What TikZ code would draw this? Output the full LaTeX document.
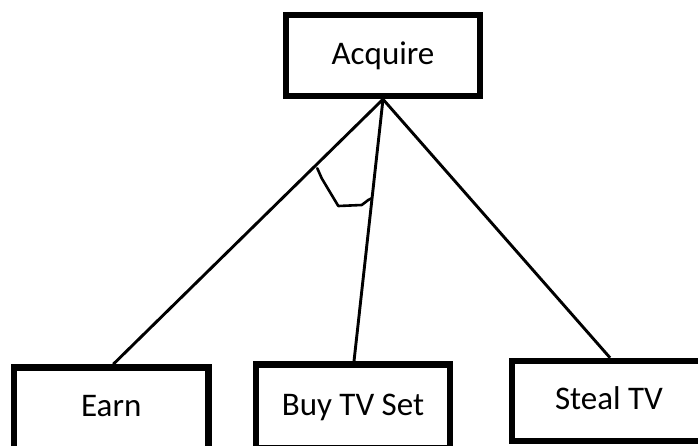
\documentclass[tikz,border=0pt]{standalone}
\usepackage{fontspec}
\setmainfont{Carlito}
\begin{document}
\begin{tikzpicture}[x=1pt,y=-1pt,
  goalbox/.style={draw=black, line width=6.5pt, rectangle, inner sep=0pt,
    text height=22pt, text depth=5pt,
    font=\fontsize{33}{40}\selectfont},
  link/.style={draw=black, line width=2.9pt},
  andarc/.style={draw=black, line width=2.6pt, line join=round, line cap=round}]
  \clip (0,0) rectangle (698,445);
  \fill[white] (0,0) rectangle (698,445);

  % goal and its three alternatives
  \node[goalbox, minimum width=194pt, minimum height=81pt] (acq) at (383,55.5) {Acquire};
  \node[goalbox, minimum width=194.5pt, minimum height=84pt, text depth=9pt] (earn) at (111.25,409.5) {Earn};
  \node[goalbox, minimum width=194pt, minimum height=84pt] (buy) at (353,406.5) {Buy TV Set};
  \node[goalbox, minimum width=194pt, minimum height=80pt] (steal) at (609,401) {Steal TV};

  % decomposition links
  \coordinate (apex) at (acq.south);
  \draw[link] (apex) -- ([xshift=2pt]earn.north);
  \draw[link] (apex) -- ([xshift=1pt]buy.north);
  \draw[link] (apex) -- ([xshift=1pt]steal.north);

  % hand-drawn arc joining two of the links
  \coordinate (a1) at (317.3,168.3);
  \coordinate (a2) at (321.7,178.3);
  \coordinate (a3) at (338.3,206);
  \coordinate (a4) at (361.7,205);
  \coordinate (a5) at (368.3,200);
  \coordinate (a6) at (371.7,198.3);
  \draw[andarc] (a1) -- (a2) -- (a3) -- (a4) -- (a5) -- (a6);
\end{tikzpicture}
\end{document}
